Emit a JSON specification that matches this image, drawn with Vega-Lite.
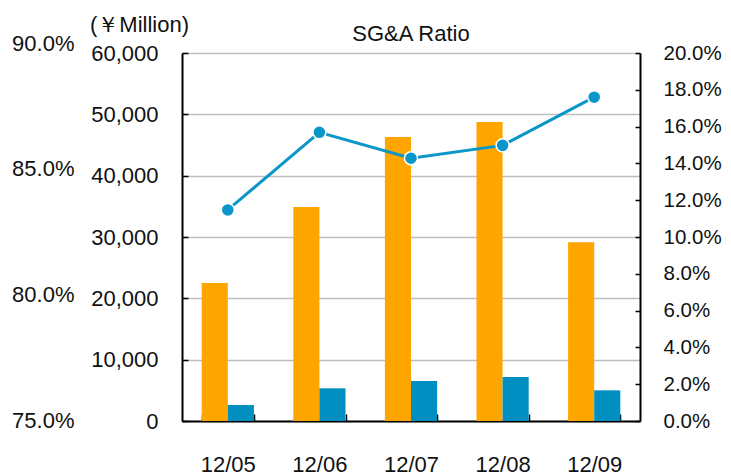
{
  "$schema": "https://vega.github.io/schema/vega-lite/v6.json",
  "width": 458,
  "height": 368,
  "autosize": {"type": "none"},
  "padding": {"left": 182, "top": 53, "right": 91, "bottom": 55},
  "config": {
    "view": {"stroke": null},
    "font": "Liberation Sans",
    "axis": {"labelFont": "Liberation Sans", "labelFontSize": 22, "labelColor": "#111111", "titleFont": "Liberation Sans", "titleFontWeight": "normal", "titleColor": "#111111", "domainColor": "#000000", "tickColor": "#000000"}
  },
  "title": {"text": "SG&A Ratio", "fontSize": 22, "fontWeight": "normal", "font": "Liberation Sans", "color": "#111111", "offset": 15, "dy": 48},
  "datasets": {
    "amounts": [
      {"period": "12/05", "series": "Sales", "value": 22500},
      {"period": "12/05", "series": "SGA", "value": 2600},
      {"period": "12/06", "series": "Sales", "value": 34900},
      {"period": "12/06", "series": "SGA", "value": 5330},
      {"period": "12/07", "series": "Sales", "value": 46300},
      {"period": "12/07", "series": "SGA", "value": 6520},
      {"period": "12/08", "series": "Sales", "value": 48750},
      {"period": "12/08", "series": "SGA", "value": 7170},
      {"period": "12/09", "series": "Sales", "value": 29130},
      {"period": "12/09", "series": "SGA", "value": 5000}
    ],
    "ratio": [
      {"period": "12/05", "ratio": 0.1147},
      {"period": "12/06", "ratio": 0.1569},
      {"period": "12/07", "ratio": 0.1428},
      {"period": "12/08", "ratio": 0.1498},
      {"period": "12/09", "ratio": 0.176}
    ],
    "dummy": [
      {"pct": 75},
      {"pct": 90}
    ]
  },
  "layer": [
    {
      "data": {"name": "amounts"},
      "mark": {"type": "bar"},
      "encoding": {
        "x": {
          "field": "period", "type": "nominal",
          "scale": {"paddingInner": 0.43, "paddingOuter": 0.215},
          "axis": {"title": null, "labelAngle": 0, "tickBand": "extent", "tickSize": -7, "labelPadding": 40, "domainWidth": 2, "tickWidth": 1.5}
        },
        "xOffset": {"field": "series", "type": "nominal", "scale": {"domain": ["Sales", "SGA"]}},
        "y": {
          "field": "value", "type": "quantitative",
          "scale": {"domain": [0, 60000], "nice": false},
          "axis": {
            "values": [0, 10000, 20000, 30000, 40000, 50000, 60000],
            "format": ",.0f",
            "title": "(￥Million)", "titleAngle": 0, "titleFontSize": 22, "titleAlign": "center", "titleBaseline": "middle", "titleX": -43, "titleY": -29,
            "grid": true, "gridColor": "#BEBEBE", "gridWidth": 1.5,
            "tickSize": -6, "labelPadding": 30, "domainWidth": 2, "tickWidth": 1.5
          }
        },
        "color": {"field": "series", "type": "nominal", "scale": {"domain": ["Sales", "SGA"], "range": ["#FFA500", "#008FC0"]}, "legend": null}
      }
    },
    {
      "data": {"name": "ratio"},
      "layer": [
        {"mark": {"type": "line", "color": "#0A96C8", "strokeWidth": 3}, "encoding": {}},
        {"mark": {"type": "point", "filled": true, "fill": "#0A96C8", "stroke": "#FFFFFF", "strokeWidth": 1.5, "opacity": 1, "size": 170}, "encoding": {}}
      ],
      "encoding": {
        "x": {"field": "period", "type": "nominal"},
        "y": {
          "field": "ratio", "type": "quantitative",
          "scale": {"domain": [0, 0.2], "nice": false},
          "axis": {"orient": "right", "title": null, "format": ".1%", "labelFontSize": 20.5, "values": [0, 0.02, 0.04, 0.06, 0.08, 0.1, 0.12, 0.14, 0.16, 0.18, 0.2], "grid": false, "tickSize": -5, "labelPadding": 28, "domainWidth": 2, "tickWidth": 1.5}
        }
      }
    },
    {
      "data": {"name": "dummy"},
      "mark": {"type": "point", "opacity": 0},
      "encoding": {
        "y": {
          "field": "pct", "type": "quantitative",
          "scale": {"domain": [75, 90], "nice": false, "range": [367, -10]},
          "axis": {"orient": "left", "title": null, "offset": 100, "domain": false, "ticks": false, "grid": false, "labelPadding": 8, "values": [75, 80, 85, 90], "labelExpr": "format(datum.value, '.1f') + '%'"}
        }
      }
    }
  ],
  "resolve": {"scale": {"y": "independent"}}
}
